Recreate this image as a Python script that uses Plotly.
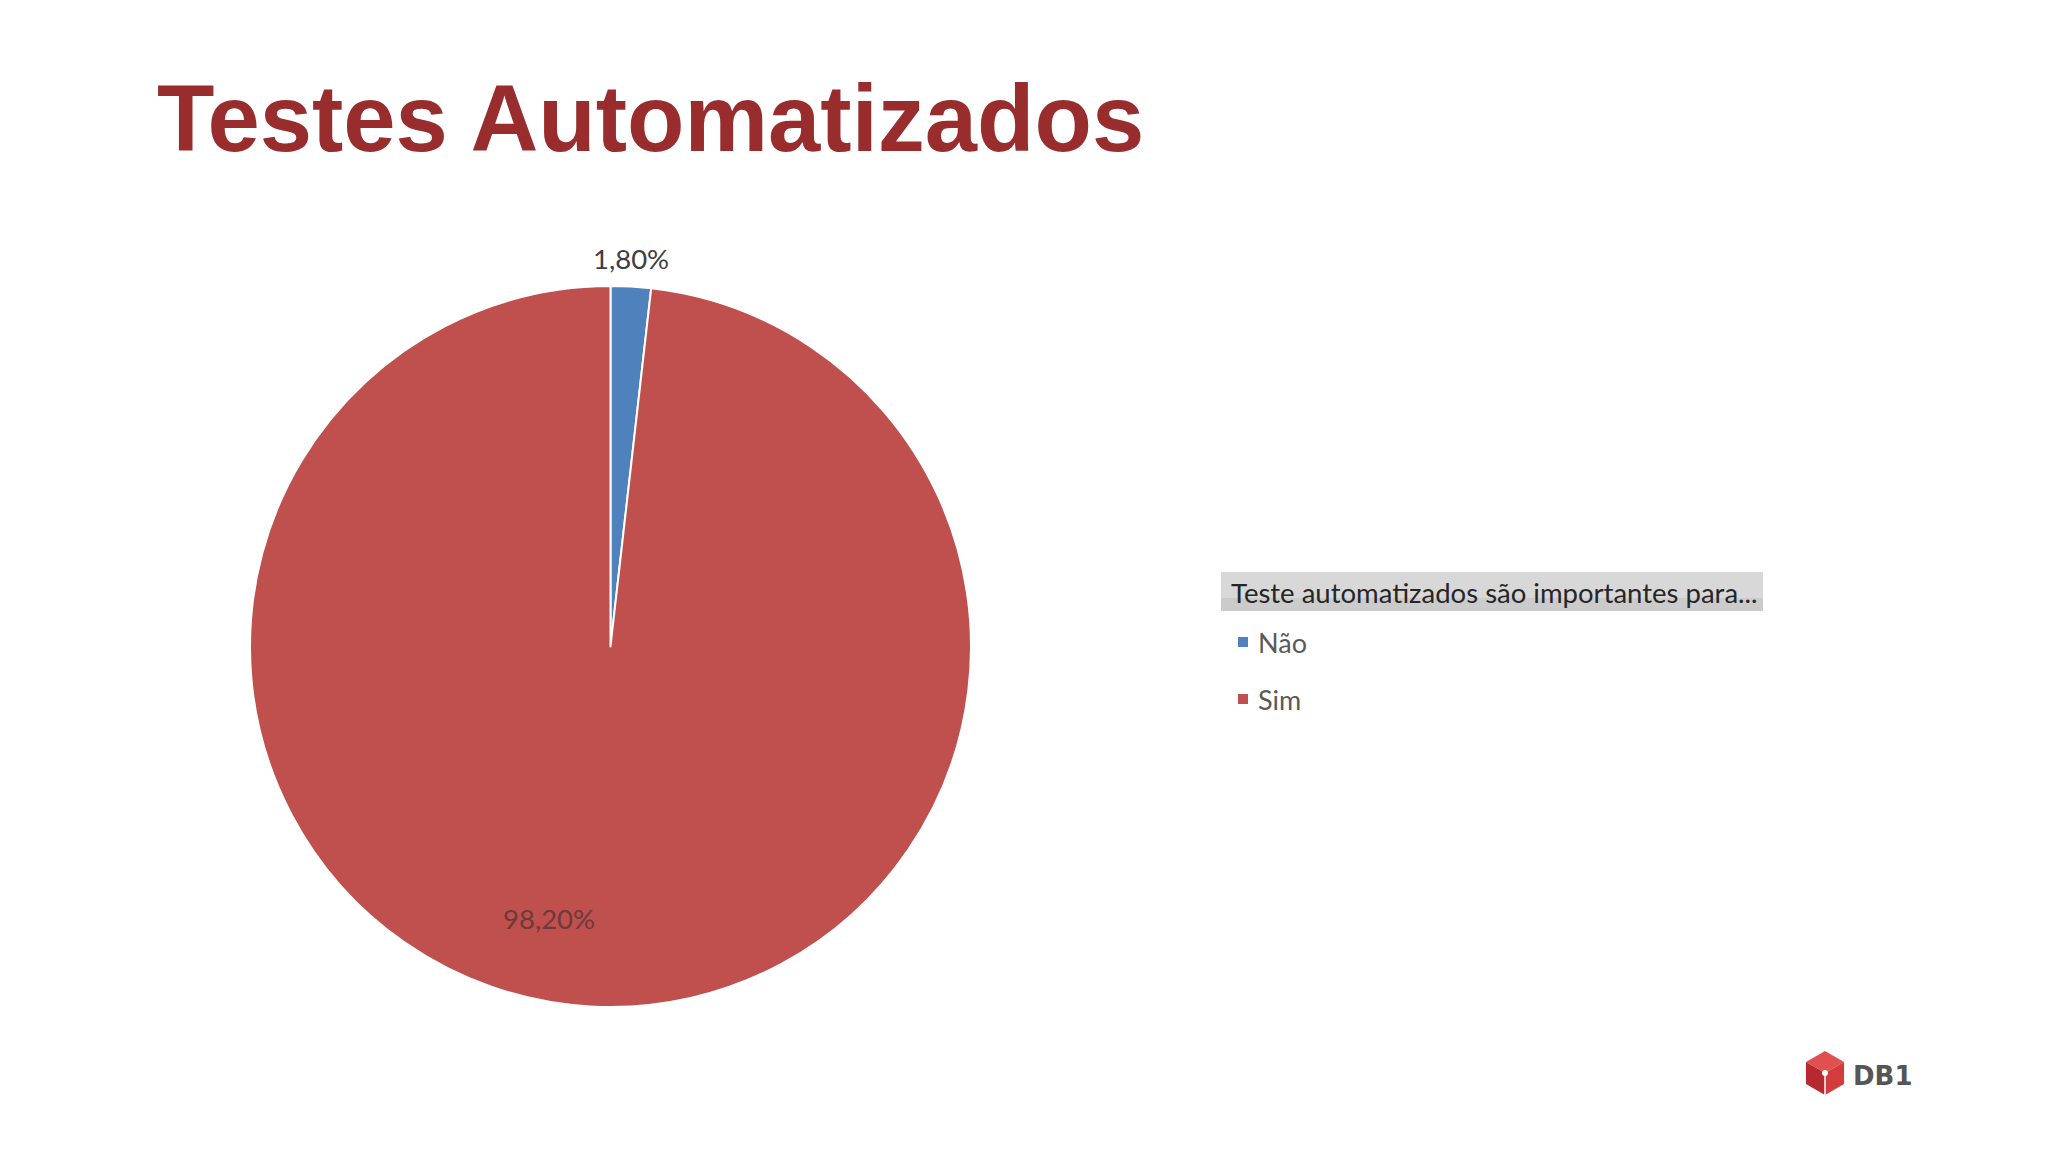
import math
import plotly.graph_objects as go

# ---- data ----
categories = ["Não", "Sim"]
values = [1.8, 98.2]
colors = ["#4F81BD", "#C0504D"]
title_text = "Testes Automatizados"
legend_title = "Teste automatizados são importantes para..."

W, H = 2048, 1152


def px(x):
    return x / W


def py(y):
    return 1 - y / H


fig = go.Figure()
fig.add_trace(go.Pie(
    labels=categories,
    values=values,
    marker=dict(colors=colors, line=dict(color="white", width=2)),
    sort=False,
    direction="clockwise",
    rotation=0,
    textinfo="none",
    hoverinfo="label+percent",
    showlegend=False,
    domain=dict(x=[px(250), px(971)], y=[py(1007), py(286)]),
))

annotations = []
# title
annotations.append(dict(
    text=f"<b>{title_text}</b>", x=px(155), y=py(118), xref="paper", yref="paper",
    xanchor="left", yanchor="middle", showarrow=False,
    font=dict(family="Liberation Sans, Arial", size=94, color="#992D2E"),
))

# data labels
label_pos = [(631, 259), (549, 918)]
label_colors = ["#404040", "#6e3a3a"]
for v, (lx, ly), c in zip(values, label_pos, label_colors):
    annotations.append(dict(
        text=f"{v:.2f}".replace(".", ",") + "%", x=px(lx), y=py(ly),
        xref="paper", yref="paper", xanchor="center", yanchor="middle",
        showarrow=False, font=dict(family="Lato", size=27.5, color=c),
    ))

shapes = []
# legend header box
shapes.append(dict(type="rect", xref="paper", yref="paper",
                   x0=px(1221), x1=px(1763), y0=py(611), y1=py(572),
                   fillcolor="#d8d8d8", line=dict(width=0), layer="below"))
shapes.append(dict(type="rect", xref="paper", yref="paper",
                   x0=px(1221), x1=px(1763), y0=py(611), y1=py(598),
                   fillcolor="#cbcbcb", line=dict(width=0), layer="below"))
annotations.append(dict(
    text=legend_title, x=px(1229), y=py(592), xref="paper", yref="paper",
    xanchor="left", yanchor="middle", showarrow=False,
    font=dict(family="Lato", size=27.5, color="#262626"),
))

# legend items
item_y = [642, 699]
for cat, col, iy in zip(categories, colors, item_y):
    shapes.append(dict(type="rect", xref="paper", yref="paper",
                       x0=px(1238), x1=px(1248), y0=py(iy + 5), y1=py(iy - 5),
                       fillcolor=col, line=dict(width=0)))
    annotations.append(dict(
        text=cat, x=px(1256), y=py(iy), xref="paper", yref="paper",
        xanchor="left", yanchor="middle", showarrow=False,
        font=dict(family="Lato", size=27, color="#595959"),
    ))

# DB1 logo (hexagonal cube)
cx, cy, r = 1825, 1073, 22
pts = [(cx + r * math.sin(math.radians(a)), cy - r * math.cos(math.radians(a))) for a in range(0, 360, 60)]


def path(points):
    return "M " + " L ".join(f"{px(x)},{py(y)}" for x, y in points) + " Z"


top = [pts[0], pts[1], (cx, cy), pts[5]]
right = [pts[1], pts[2], pts[3], (cx, cy)]
left = [pts[5], (cx, cy), pts[3], pts[4]]
for pts_face, col in [(top, "#e0504f"), (right, "#d23c3c"), (left, "#b52a2e")]:
    shapes.append(dict(type="path", xref="paper", yref="paper", path=path(pts_face),
                       fillcolor=col, line=dict(width=0)))
shapes.append(dict(type="line", xref="paper", yref="paper",
                   x0=px(cx), x1=px(cx), y0=py(cy), y1=py(cy + r),
                   line=dict(color="white", width=1.5)))
shapes.append(dict(type="circle", xref="paper", yref="paper",
                   x0=px(cx - 3), x1=px(cx + 3), y0=py(cy + 3), y1=py(cy - 3),
                   fillcolor="white", line=dict(width=0)))
annotations.append(dict(
    text="<b>DB1</b>", x=px(1851), y=py(1076), xref="paper", yref="paper",
    xanchor="left", yanchor="middle", showarrow=False,
    font=dict(family="DejaVu Sans", size=26, color="#555555"),
))

fig.update_layout(
    width=W, height=H,
    margin=dict(l=0, r=0, t=0, b=0),
    paper_bgcolor="white", plot_bgcolor="white",
    annotations=annotations, shapes=shapes,
    showlegend=False,
)

fig.write_html(
    "out.html",
    config={"displayModeBar": False},
    post_script="document.body.style.margin='0';document.body.style.overflow='hidden';",
)
